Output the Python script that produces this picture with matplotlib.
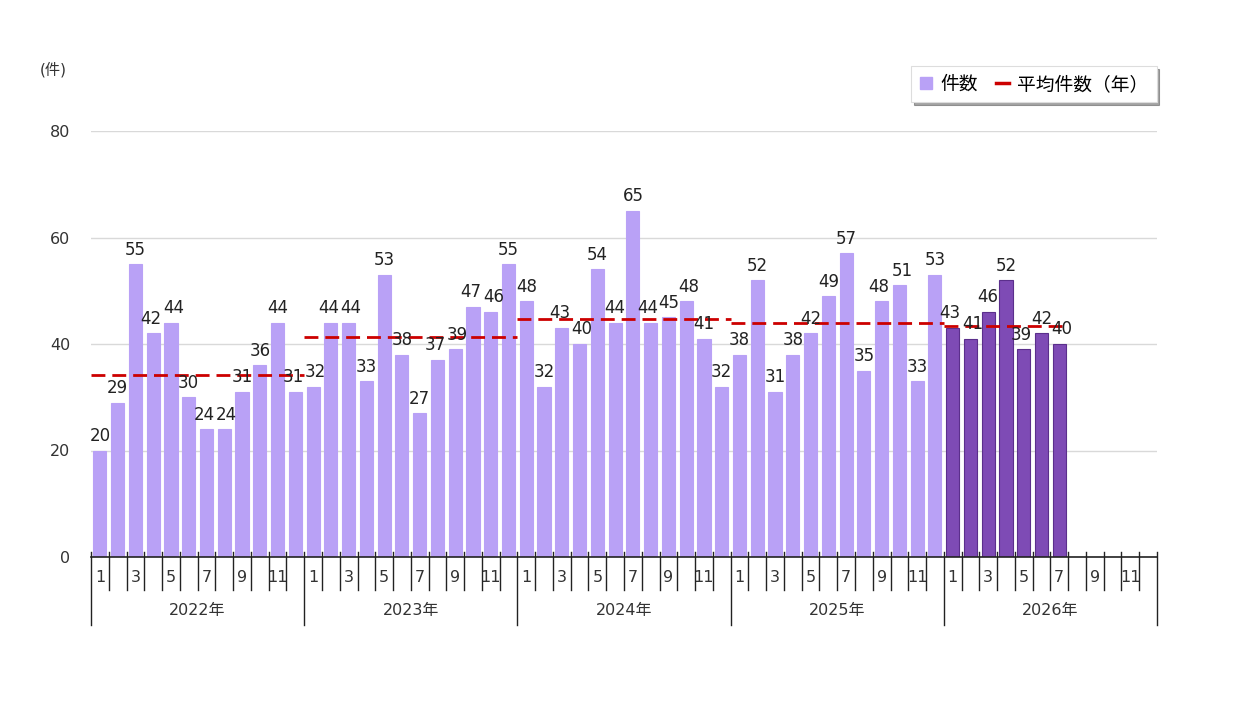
import matplotlib
matplotlib.use("Agg")
import matplotlib.pyplot as plt
from matplotlib.lines import Line2D
import matplotlib.transforms as mtransforms

plt.rcParams['font.family'] = ['DejaVu Sans', 'Noto Sans CJK JP']

years = ['2022年', '2023年', '2024年', '2025年', '2026年']
month_labels = ['1', '', '3', '', '5', '', '7', '', '9', '', '11', '']
counts = [
    20, 29, 55, 42, 44, 30, 24, 24, 31, 36, 44, 31,
    32, 44, 44, 33, 53, 38, 27, 37, 39, 47, 46, 55,
    48, 32, 43, 40, 54, 44, 65, 44, 45, 48, 41, 32,
    38, 52, 31, 38, 42, 49, 57, 35, 48, 51, 33, 53,
    43, 41, 46, 52, 39, 42, 40,
]
year_avg = [34.2, 41.3, 44.7, 43.9, 43.3]
months_per_year = [12, 12, 12, 12, 7]
highlight_year = '2026年'

light = '#b9a1f6'
dark = '#7e4bb5'
dark_edge = '#5b2f8c'
red = '#cc0000'

fig = plt.figure(figsize=(12.4, 7.15), dpi=100)
ax = fig.add_axes([91/1240, 1-557/715, (1157-91)/1240, (557-131)/715])

n_slots = 12 * len(years)
xs = list(range(len(counts)))
colors = []
edges = []
for i in xs:
    y = years[i // 12]
    colors.append(dark if y == highlight_year else light)
    edges.append(dark_edge if y == highlight_year else light)
ax.bar(xs, counts, width=0.74, color=colors, edgecolor=edges, linewidth=0.8, zorder=2)

# simple label separation: push apart neighbours of similar height
shift = [0.0] * len(counts)
for i in range(len(counts) - 1):
    if abs(counts[i] - counts[i + 1]) < 3.2:
        shift[i] -= 1.8
        shift[i + 1] += 1.8
for i, v in enumerate(counts):
    ax.annotate(str(v), (i, v), xytext=(shift[i], 4), textcoords='offset points',
                ha='center', va='bottom', fontsize=12, color='#222222', zorder=4)

start = 0
for k, (avg, m) in enumerate(zip(year_avg, months_per_year)):
    ax.plot([start - 0.5, start + m - 0.5], [avg, avg], color=red, lw=2,
            dashes=(5, 2.5), zorder=3)
    start += 12

ax.set_xlim(-0.5, n_slots - 0.5)
ax.set_ylim(0, 80)
ax.set_yticks([0, 20, 40, 60, 80])
ax.tick_params(axis='y', length=0, pad=15, labelsize=11.5, labelcolor='#333333')
ax.grid(axis='y', color='#d9d9d9', lw=1, zorder=0)
ax.set_xticks([])
for s in ['top', 'right', 'left']:
    ax.spines[s].set_visible(False)
ax.spines['bottom'].set_color('#222222')
ax.spines['bottom'].set_linewidth(1.2)
ax.spines['bottom'].set_zorder(5)

# custom category axis
trans = mtransforms.blended_transform_factory(ax.transData, ax.transAxes)
px = 1.0 / (557 - 131)
for b in range(n_slots + 1):
    xb = b - 0.5
    if b % 12 == 0:
        y0 = -68 * px
    else:
        y0 = -33 * px
    ax.plot([xb, xb], [5 * px, y0], transform=trans, color='#222222', lw=1,
            clip_on=False, zorder=5)
for i in range(n_slots):
    lab = month_labels[i % 12]
    if lab:
        ax.text(i, -21 * px, lab, transform=trans, ha='center', va='center',
                fontsize=11.5, color='#333333')
for k, y in enumerate(years):
    ax.text(k * 12 + 5.5, -53 * px, y, transform=trans, ha='center', va='center',
            fontsize=11.5, color='#333333')

fig.text(40/1240, 1-70/715, '(件)', ha='left', va='center', fontsize=11, color='#333333')

handles = [
    Line2D([], [], marker='s', color=light, linestyle='none', markersize=8),
    Line2D([], [], color=red, lw=2.5),
]
leg = fig.legend(handles, ['件数', '平均件数（年）'], loc='upper right',
                 bbox_to_anchor=(1166/1240, 1-57/715), ncol=2, frameon=True,
                 shadow=True, fancybox=False, fontsize=13.5, handlelength=0.7,
                 handletextpad=0.4, columnspacing=1.0, borderpad=0.45)
leg.get_frame().set_edgecolor('#dddddd')
leg.get_frame().set_linewidth(0.8)

fig.savefig('out.png', dpi=100, facecolor='white')
